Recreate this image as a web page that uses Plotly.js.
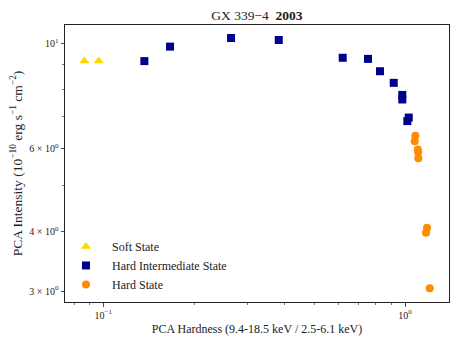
<!DOCTYPE html>
<html>
<head>
<meta charset="utf-8">
<script src="https://cdn.plot.ly/plotly-3.0.1.min.js"></script>
<style>html,body{margin:0;padding:0;background:#fff;}#chart{width:463px;height:347px;}</style>
</head>
<body>
<div id="chart"></div>
<script>
// Soft State
const softHardness = [0.0865, 0.0966];
const softIntensity = [9.18, 9.18];
// Hard Intermediate State
const himsHardness = [0.1368, 0.1664, 0.2651, 0.3815, 0.6216, 0.754, 0.826, 0.9175, 0.9795, 0.9795, 1.029, 1.018];
const himsIntensity = [9.17, 9.84, 10.26, 10.16, 9.32, 9.27, 8.73, 8.25, 7.78, 7.61, 6.97, 6.85];
// Hard State
const hardHardness = [1.082, 1.077, 1.102, 1.105, 1.107, 1.183, 1.174, 1.208];
const hardIntensity = [6.38, 6.21, 5.97, 5.89, 5.72, 4.08, 3.98, 3.04];

const yTickVals = [3, 4, 6, 10];
const yTickText = ['3 × 10<sup>0</sup>', '4 × 10<sup>0</sup>', '6 × 10<sup>0</sup>', '10<sup>1</sup>'];
const xTickVals = [0.1, 1];
const xTickText = ['10<sup>−1</sup>', '10<sup>0</sup>'];

const serif = 'Liberation Serif, DejaVu Serif, serif';

const traces = [
  {x: softHardness, y: softIntensity, mode: 'markers', type: 'scatter', name: 'Soft State',
   marker: {symbol: 'triangle-up', color: '#FFD700', size: 9}},
  {x: himsHardness, y: himsIntensity, mode: 'markers', type: 'scatter', name: 'Hard Intermediate State',
   marker: {symbol: 'square', color: '#00008B', size: 8}},
  {x: hardHardness, y: hardIntensity, mode: 'markers', type: 'scatter', name: 'Hard State',
   marker: {symbol: 'circle', color: '#FF8C00', size: 8}}
];

const layout = {
  width: 463, height: 347,
  margin: {l: 65, r: 14, t: 25, b: 45},
  paper_bgcolor: '#fff', plot_bgcolor: '#fff',
  font: {family: serif, color: '#222', size: 11},
  title: {text: 'GX 339−4  <b>2003</b>', x: 0.555, xanchor: 'center', y: 0.955, yanchor: 'middle',
          font: {family: serif, size: 13.5, color: '#222'}},
  showlegend: true,
  legend: {x: -0.013, y: 0.011, xanchor: 'left', yanchor: 'bottom', bgcolor: 'rgba(0,0,0,0)',
           font: {family: serif, size: 12, color: '#222'}, tracegroupgap: 0,
           itemsizing: 'trace', itemwidth: 42},
  xaxis: {
    type: 'log', range: [-1.127, 0.1458],
    showline: true, mirror: true, linecolor: '#222', linewidth: 1,
    showgrid: false, zeroline: false,
    ticks: 'outside', ticklen: 3.5, tickwidth: 0.8, tickcolor: '#222',
    tickmode: 'array', tickvals: xTickVals, ticktext: xTickText,
    tickfont: {family: serif, size: 10, color: '#222'},
    minor: {tickmode: 'array', tickvals: [0.08, 0.09, 0.2, 0.3, 0.4, 0.5, 0.6, 0.7, 0.8, 0.9],
            ticks: 'outside', ticklen: 2, tickwidth: 0.6, tickcolor: '#222', showgrid: false},
    title: {text: 'PCA Hardness (9.4-18.5 keV / 2.5-6.1 keV)', standoff: 5,
            font: {family: serif, size: 12, color: '#222'}}
  },
  yaxis: {
    type: 'log', range: [0.4539, 1.0386],
    showline: true, mirror: true, linecolor: '#222', linewidth: 1,
    showgrid: false, zeroline: false,
    ticks: 'outside', ticklen: 3.5, tickwidth: 0.8, tickcolor: '#222',
    tickmode: 'array', tickvals: yTickVals, ticktext: yTickText,
    tickfont: {family: serif, size: 10, color: '#222'},
    minor: {tickmode: 'array', tickvals: [5, 7, 8, 9],
            ticks: 'outside', ticklen: 2, tickwidth: 0.6, tickcolor: '#222', showgrid: false},
    title: {text: 'PCA Intensity (10<sup>−10</sup> erg s<sup>−1</sup> cm<sup>−2</sup>)', standoff: 3,
            font: {family: serif, size: 13.5, color: '#222'}}
  }
};

Plotly.newPlot('chart', traces, layout, {displayModeBar: false, staticPlot: true});
</script>
</body>
</html>
